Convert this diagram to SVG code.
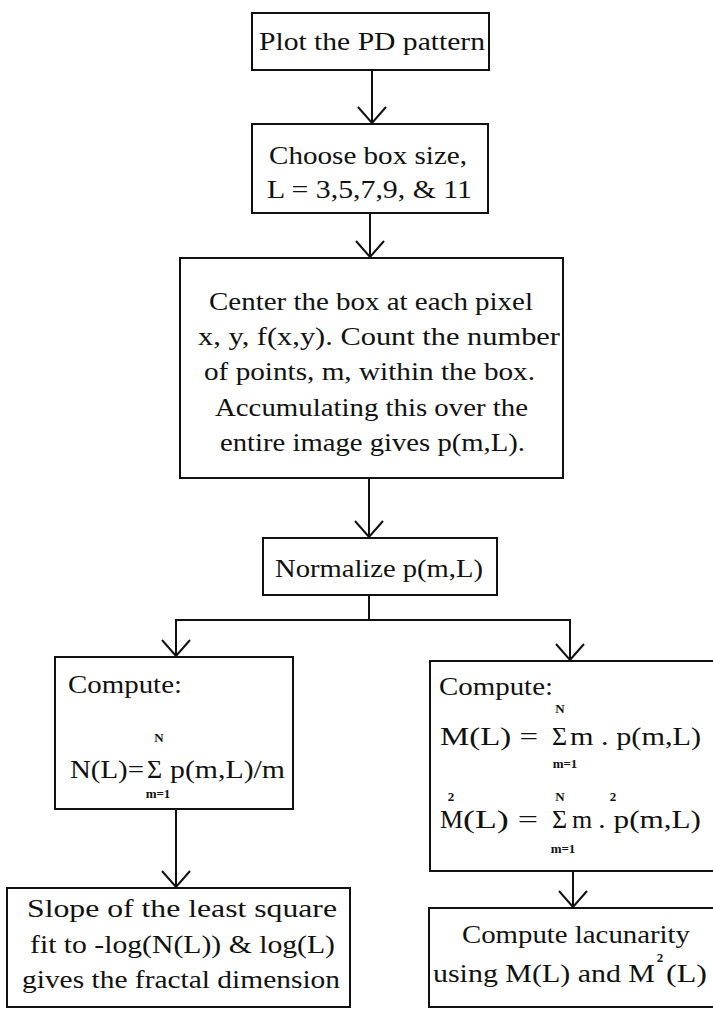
<svg xmlns="http://www.w3.org/2000/svg" width="713" height="1009" viewBox="0 0 713 1009">
  <style>
    .box { fill: #ffffff; stroke: #111111; stroke-width: 2; }
    .t { font-family: "Liberation Serif", "Times New Roman", serif; font-size: 26px; fill: #111111; }
    .tm { font-family: "Liberation Serif", "Times New Roman", serif; font-size: 26px; fill: #111111; text-anchor: middle; }
    .sm { font-family: "Liberation Serif", "Times New Roman", serif; font-size: 13px; font-weight: bold; fill: #111111; text-anchor: middle; }
    .conn { fill: none; stroke: #111111; stroke-width: 2; }
  </style>
  <defs>
    <marker id="vee" markerUnits="userSpaceOnUse" viewBox="-18 -16 20 32" markerWidth="20" markerHeight="32" refX="0" refY="0" orient="auto">
      <path d="M -16 -14 L 0 0 L -16 14" fill="none" stroke="#111111" stroke-width="2"/>
    </marker>
  </defs>
  <rect width="713" height="1009" fill="#ffffff"/>

  <g id="connectors">
    <path class="conn" d="M 372 70 V 123" marker-end="url(#vee)"/>
    <path class="conn" d="M 370 213 V 257" marker-end="url(#vee)"/>
    <path class="conn" d="M 369 478 V 537" marker-end="url(#vee)"/>
    <path class="conn" d="M 369 595 V 620 H 176 V 656" marker-end="url(#vee)"/>
    <path class="conn" d="M 369 620 H 570 V 660" marker-end="url(#vee)"/>
    <path class="conn" d="M 176 809 V 887" marker-end="url(#vee)"/>
    <path class="conn" d="M 573 871 V 907" marker-end="url(#vee)"/>
  </g>

  <g id="plot">
    <rect class="box" x="252" y="13" width="237" height="57"/>
    <text class="t" x="259" y="50" textLength="226" lengthAdjust="spacingAndGlyphs">Plot the PD pattern</text>
  </g>

  <g id="choose">
    <rect class="box" x="252" y="124" width="236" height="89"/>
    <text class="t" x="269" y="164" textLength="198" lengthAdjust="spacingAndGlyphs">Choose box size,</text>
    <text class="t" x="267" y="198" textLength="205" lengthAdjust="spacingAndGlyphs">L = 3,5,7,9, &amp; 11</text>
  </g>

  <g id="center">
    <rect class="box" x="180" y="258" width="383" height="220"/>
    <text class="t" x="209" y="310" textLength="324" lengthAdjust="spacingAndGlyphs">Center the box at each pixel</text>
    <text class="t" x="198" y="345" textLength="362" lengthAdjust="spacingAndGlyphs">x, y, f(x,y). Count the number</text>
    <text class="t" x="204" y="380" textLength="331" lengthAdjust="spacingAndGlyphs">of points, m, within the box.</text>
    <text class="t" x="215" y="416" textLength="313" lengthAdjust="spacingAndGlyphs">Accumulating this over the</text>
    <text class="t" x="220" y="451" textLength="305" lengthAdjust="spacingAndGlyphs">entire image gives p(m,L).</text>
  </g>

  <g id="normalize">
    <rect class="box" x="263" y="538" width="234" height="57"/>
    <text class="t" x="275" y="577" textLength="208" lengthAdjust="spacingAndGlyphs">Normalize p(m,L)</text>
  </g>

  <g id="compute-n">
    <rect class="box" x="55" y="657" width="238" height="152"/>
    <text class="t" x="68" y="693" textLength="114" lengthAdjust="spacingAndGlyphs">Compute:</text>
    <text class="sm" x="159" y="742">N</text>
    <text class="t" x="70" y="778" textLength="74" lengthAdjust="spacingAndGlyphs">N(L)=</text>
    <text class="t" x="147" y="778">Σ</text>
    <text class="t" x="170" y="778" textLength="115" lengthAdjust="spacingAndGlyphs">p(m,L)/m</text>
    <text class="sm" x="158" y="798">m=1</text>
  </g>

  <g id="compute-m">
    <rect class="box" x="430" y="661" width="290" height="210"/>
    <text class="t" x="439" y="695" textLength="114" lengthAdjust="spacingAndGlyphs">Compute:</text>
    <text class="sm" x="560" y="713">N</text>
    <text class="t" x="440" y="745" textLength="98" lengthAdjust="spacingAndGlyphs">M(L) =</text>
    <text class="t" x="552" y="745">Σ</text>
    <text class="t" x="570" y="745" textLength="131" lengthAdjust="spacingAndGlyphs">m . p(m,L)</text>
    <text class="sm" x="565" y="768">m=1</text>
    <text class="t" x="440" y="828">M</text>
    <text class="sm" x="451" y="801">2</text>
    <text class="t" x="463" y="828" textLength="75" lengthAdjust="spacingAndGlyphs">(L) =</text>
    <text class="sm" x="560" y="801">N</text>
    <text class="t" x="552" y="828">Σ</text>
    <text class="t" x="572" y="828">m</text>
    <text class="sm" x="613" y="801">2</text>
    <text class="t" x="598" y="828" textLength="103" lengthAdjust="spacingAndGlyphs">. p(m,L)</text>
    <text class="sm" x="563" y="853">m=1</text>
  </g>

  <g id="slope">
    <rect class="box" x="7" y="888" width="343" height="119"/>
    <text class="t" x="27" y="917" textLength="310" lengthAdjust="spacingAndGlyphs">Slope of the least square</text>
    <text class="t" x="30" y="953" textLength="305" lengthAdjust="spacingAndGlyphs">fit to -log(N(L)) &amp; log(L)</text>
    <text class="t" x="22" y="988" textLength="318" lengthAdjust="spacingAndGlyphs">gives the fractal dimension</text>
  </g>

  <g id="lacunarity">
    <rect class="box" x="429" y="908" width="291" height="99"/>
    <text class="t" x="462" y="943" textLength="228" lengthAdjust="spacingAndGlyphs">Compute lacunarity</text>
    <text class="t" x="433" y="982" textLength="222" lengthAdjust="spacingAndGlyphs">using M(L) and M</text>
    <text class="sm" x="660" y="962">2</text>
    <text class="t" x="666" y="982" textLength="41" lengthAdjust="spacingAndGlyphs">(L)</text>
  </g>
</svg>
